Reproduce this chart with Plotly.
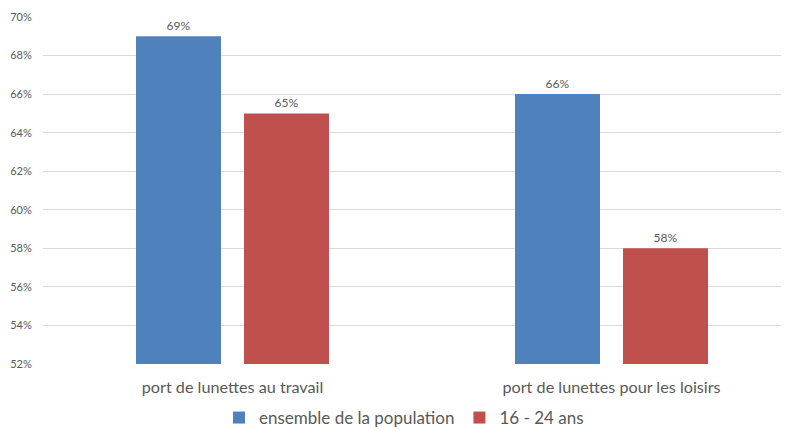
import plotly.graph_objects as go

categories = ["port de lunettes au travail", "port de lunettes pour les loisirs"]
series_names = ["ensemble de la population", "16 - 24 ans"]
pop_values = [0.69, 0.66]
young_values = [0.65, 0.58]
tick_values = [0.52, 0.54, 0.56, 0.58, 0.60, 0.62, 0.64, 0.66, 0.68, 0.70]

colors = ["#4F81BD", "#C0504D"]
FONT = "Lato"

fig = go.Figure()
for name, vals, col in zip(series_names, [pop_values, young_values], colors):
    fig.add_trace(go.Bar(
        x=categories, y=vals, name=name, marker_color=col,
        marker_line_width=0,
        text=[f"{round(v*100)}%" for v in vals],
        textposition="outside", cliponaxis=False,
        textfont=dict(size=12, color="#595959", family=FONT),
    ))

# page body has an 8px margin, so the figure is drawn offset by (8, 8)
OFF = 8
W, H = 789 - OFF, 431 - OFF
ml, mr, mt, mb = 43 - OFF, 0, 17 - OFF, 431 - 364
pw = W - ml - mr
ph = H - mt - mb

fig.update_layout(
    width=W, height=H,
    margin=dict(l=ml, r=mr, t=mt, b=mb, autoexpand=False),
    paper_bgcolor="white", plot_bgcolor="white",
    barmode="group", bargap=0.43, bargroupgap=0.213,
    font=dict(family=FONT, color="#595959"),
    showlegend=True,
    legend=dict(orientation="h", x=(404 - 43) / pw, xanchor="center",
                y=(364 - 418) / ph, yanchor="middle",
                font=dict(size=17, color="#595959", family=FONT),
                itemwidth=30, traceorder="normal"),
    xaxis=dict(range=[-0.5, -0.5 + pw / 379.0], showgrid=False,
               showline=False, zeroline=False, automargin=False,
               ticks="outside", ticklen=9, tickcolor="rgba(0,0,0,0)",
               tickfont=dict(size=16.2, color="#595959", family=FONT)),
    yaxis=dict(range=[0.52, 0.70], tickvals=tick_values, tickformat=".0%",
               showgrid=True, gridcolor="#D9D9D9", gridwidth=1,
               zeroline=False, showline=False, automargin=False,
               ticks="outside", ticklen=8, tickcolor="rgba(0,0,0,0)",
               tickfont=dict(size=11, color="#595959", family=FONT)),
)

fig.write_html("out.html")
